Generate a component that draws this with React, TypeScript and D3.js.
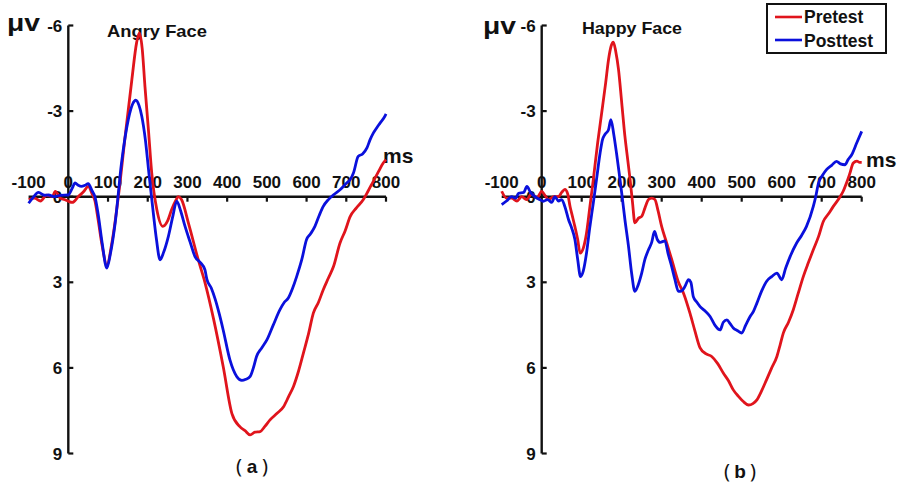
import React from "react";
import * as d3 from "d3";

type Pt = [number, number];

const xTicks = [-100, 0, 100, 200, 300, 400, 500, 600, 700, 800];
const yTicks = [-6, -3, 0, 3, 6, 9];
const seriesNames = ["Pretest", "Posttest"];
const panelTitles = ["Angry Face", "Happy Face"];
const captions = ["a", "b"];

const angryPretest: Pt[] = [
  [-100, 0.1], [-85, 0.05], [-70, 0.15], [-55, -0.05], [-40, 0.0], [-33, -0.19], [-20, 0.05], [-10, 0.1],
  [0, 0.16], [10, 0.2], [25, 0.0], [40, -0.2], [50, -0.36], [60, -0.1], [67, 0.14], [75, 0.8], [85, 1.7],
  [97, 2.39], [110, 1.6], [126, 0.0], [143, -2.1], [160, -4.1], [172, -5.4], [179, -5.74], [186, -5.2],
  [193, -3.87], [202, -2.3], [210, -0.84], [223, 0.46], [238, 1.04], [250, 0.85], [260, 0.46], [270, 0.15],
  [277, 0.0], [285, 0.1], [303, 0.95], [327, 2.2], [344, 3.0], [366, 4.3], [390, 5.95], [412, 7.6],
  [432, 8.06], [445, 8.2], [458, 8.35], [470, 8.25], [483, 8.23], [495, 8.05], [508, 7.82], [525, 7.6],
  [542, 7.36], [555, 7.0], [567, 6.65], [580, 6.1], [592, 5.48], [605, 4.8], [617, 4.08], [630, 3.7],
  [642, 3.26], [655, 2.85], [668, 2.44], [684, 1.63], [697, 1.2], [710, 0.69], [725, 0.4], [743, 0.1],
  [755, -0.2], [768, -0.54], [780, -0.85], [793, -1.18], [800, -1.3],
];

const angryPosttest: Pt[] = [
  [-100, 0.23], [-90, 0.05], [-75, -0.15], [-60, -0.05], [-50, -0.06], [-35, 0.0], [-20, -0.05], [0, -0.06],
  [10, -0.3], [17, -0.48], [25, -0.4], [33, -0.36], [42, -0.4], [50, -0.46], [60, -0.2], [67, 0.0],
  [75, 0.6], [85, 1.6], [97, 2.5], [106, 2.0], [118, 0.92], [134, -1.18], [151, -2.7], [162, -3.25],
  [170, -3.38], [178, -3.2], [185, -2.82], [194, -2.0], [202, -0.95], [214, 0.57], [222, 1.5], [231, 2.21],
  [240, 1.95], [252, 1.39], [263, 0.7], [273, 0.16], [283, 0.5], [294, 1.04], [307, 1.6], [319, 2.1],
  [332, 2.3], [344, 2.56], [349, 2.9], [360, 3.2], [370, 3.6], [380, 4.1], [390, 4.67], [407, 5.72],
  [424, 6.3], [437, 6.44], [447, 6.4], [458, 6.3], [466, 6.0], [474, 5.6], [487, 5.3], [500, 5.02],
  [516, 4.5], [533, 3.96], [544, 3.7], [554, 3.55], [565, 3.2], [575, 2.8], [588, 2.2], [600, 1.5],
  [610, 1.3], [621, 1.04], [632, 0.65], [642, 0.34], [655, 0.1], [668, -0.07], [685, -0.25], [701, -0.48],
  [710, -0.6], [718, -0.83], [730, -1.41], [741, -1.5], [752, -1.71], [760, -2.0], [768, -2.23],
  [776, -2.4], [785, -2.58], [798, -2.84], [800, -2.9],
];

const happyPretest: Pt[] = [
  [-100, -0.19], [-88, 0.05], [-75, 0.05], [-62, 0.15], [-50, 0.0], [-38, 0.1], [-25, -0.1], [-12, 0.05],
  [0, -0.19], [8, -0.05], [17, 0.1], [30, 0.0], [42, 0.0], [50, -0.15], [58, -0.26], [65, -0.1],
  [71, 0.35], [77, 0.7], [83, 1.05], [90, 1.5], [96, 1.98], [104, 1.8], [112, 1.28], [120, 0.4],
  [129, -0.6], [140, -1.9], [150, -2.94], [160, -4.0], [167, -4.8], [174, -5.3], [179, -5.42], [185, -5.1],
  [192, -4.46], [200, -3.3], [208, -2.12], [215, -1.3], [221, -0.6], [227, 0.2], [233, 0.92], [242, 0.75],
  [250, 0.69], [258, 0.4], [267, 0.1], [275, 0.05], [283, 0.1], [291, 0.5], [300, 1.05], [312, 1.6],
  [325, 2.2], [342, 3.0], [355, 3.4], [371, 4.1], [383, 4.7], [396, 5.3], [410, 5.5], [425, 5.6],
  [440, 5.85], [454, 6.18], [467, 6.45], [479, 6.77], [492, 7.0], [504, 7.18], [517, 7.3], [528, 7.25],
  [538, 7.12], [550, 6.8], [562, 6.42], [575, 6.0], [588, 5.6], [596, 5.2], [604, 4.78], [617, 4.4],
  [629, 3.96], [641, 3.4], [654, 2.8], [667, 2.3], [679, 1.86], [692, 1.4], [704, 0.87], [717, 0.6],
  [729, 0.34], [746, 0.0], [754, -0.2], [762, -0.48], [770, -0.8], [779, -1.18], [788, -1.25],
  [795, -1.2], [800, -1.2],
];

const happyPosttest: Pt[] = [
  [-100, 0.28], [-88, 0.15], [-75, 0.0], [-65, 0.05], [-58, -0.12], [-45, -0.15], [-37, -0.36], [-28, -0.15],
  [-17, 0.0], [-5, 0.1], [4, 0.16], [15, 0.1], [25, 0.2], [33, 0.0], [42, 0.15], [50, 0.1], [58, 0.35],
  [67, 0.8], [75, 1.1], [83, 1.5], [90, 2.2], [97, 2.8], [104, 2.6], [112, 1.98], [120, 1.1], [129, 0.22],
  [137, -0.6], [146, -1.53], [152, -2.0], [158, -2.18], [167, -2.35], [173, -2.7], [180, -2.2], [187, -1.53],
  [193, -0.9], [200, -0.13], [208, 0.8], [217, 1.74], [225, 2.7], [233, 3.32], [241, 3.1], [250, 2.68],
  [258, 2.2], [267, 1.86], [275, 1.6], [282, 1.22], [289, 1.5], [296, 1.6], [308, 1.55], [316, 2.0],
  [325, 2.45], [333, 2.9], [342, 3.32], [350, 3.3], [358, 3.15], [367, 2.91], [373, 3.0], [379, 3.5],
  [388, 3.7], [396, 3.85], [408, 4.0], [421, 4.2], [433, 4.5], [446, 4.67], [454, 4.4], [463, 4.32],
  [471, 4.45], [479, 4.6], [490, 4.7], [500, 4.78], [510, 4.5], [521, 4.2], [530, 4.0], [538, 3.73],
  [550, 3.3], [562, 2.97], [575, 2.8], [588, 2.68], [600, 2.91], [610, 2.5], [621, 2.1], [637, 1.63],
  [650, 1.35], [662, 1.04], [679, 0.34], [685, 0.0], [692, -0.48], [702, -0.75], [712, -0.95], [725, -1.1],
  [737, -1.24], [747, -1.15], [758, -1.12], [766, -1.3], [775, -1.47], [788, -1.9], [800, -2.29],
];

const RED = "#e0141c";
const BLUE = "#0a10dc";
const INK = "#111";
const FONT = "Arial, 'Liberation Sans', Helvetica, sans-serif";

const W = 901;
const H = 484;

const yScale = d3.scaleLinear().domain([-6, 9]).range([25.5, 453.5]);

interface PanelProps {
  xRange: [number, number];
  title: string;
  titleX: number;
  titleY: number;
  uvX: number;
  uvY: number;
  msX: number;
  msY: number;
  pre: Pt[];
  post: Pt[];
  caption: string;
  capX: number;
  capY: number;
}

function Panel(p: PanelProps) {
  const x = d3.scaleLinear().domain([-100, 800]).range(p.xRange);
  const x0 = x(0);
  const y0 = yScale(0);
  const line = d3
    .line<Pt>()
    .x((d) => x(d[0]))
    .y((d) => yScale(d[1]))
    .curve(d3.curveMonotoneX);
  return (
    <g>
      <text x={p.uvX} y={p.uvY} fontFamily={FONT} fontWeight="bold" fontSize={23} fill={INK}
        textLength={33} lengthAdjust="spacingAndGlyphs">μv</text>
      <text x={p.titleX} y={p.titleY} fontFamily={FONT} fontWeight="bold" fontSize={16.5} fill={INK}
        textLength={100} lengthAdjust="spacingAndGlyphs">{p.title}</text>
      {yTicks.map((t) => (
        <text key={"yl" + t} x={x0 - 6} y={yScale(t)} dy="0.36em" textAnchor="end"
          fontFamily={FONT} fontWeight="bold" fontSize={17} fill={INK}>{t}</text>
      ))}
      {xTicks.map((t) => (
        <text key={"xl" + t} x={x(t)} y={y0 - 9} textAnchor="middle"
          fontFamily={FONT} fontWeight="bold" fontSize={17} fill={INK}>{t}</text>
      ))}
      <text x={p.msX} y={p.msY} fontFamily={FONT} fontWeight="bold" fontSize={21} fill={INK}>ms</text>
      <line x1={x(-100)} x2={x(800)} y1={y0} y2={y0} stroke={INK} strokeWidth={2.4} />
      {xTicks.filter((t) => t > 0).map((t) => (
        <line key={"xt" + t} x1={x(t)} x2={x(t)} y1={y0} y2={y0 + 5} stroke={INK} strokeWidth={2.2} />
      ))}
      <line x1={x0} x2={x0} y1={yScale(-6)} y2={yScale(9)} stroke={INK} strokeWidth={2.4} />
      {yTicks.map((t) => (
        <line key={"yt" + t} x1={x0} x2={x0 + 5} y1={yScale(t)} y2={yScale(t)} stroke={INK} strokeWidth={2.2} />
      ))}
      <path d={line(p.pre) || ""} fill="none" stroke={RED} strokeWidth={2.8} strokeLinejoin="round" />
      <path d={line(p.post) || ""} fill="none" stroke={BLUE} strokeWidth={2.8} strokeLinejoin="round" />
      <g fill={INK}>
        <text x={p.capX - 13} y={p.capY} textAnchor="middle" fontFamily="'Noto Sans', sans-serif" fontSize={20}>(</text>
        <text x={p.capX} y={p.capY} textAnchor="middle" fontFamily={FONT} fontWeight="bold" fontSize={19}>{p.caption}</text>
        <text x={p.capX + 13} y={p.capY} textAnchor="middle" fontFamily="'Noto Sans', sans-serif" fontSize={20}>)</text>
      </g>
    </g>
  );
}

export default function App() {
  return (
    <svg width={W} height={H} viewBox={`0 0 ${W} ${H}`}
      style={{ position: "absolute", left: 0, top: 0, background: "#fff" }}>
      <rect x={0} y={0} width={W} height={H} fill="#fff" />
      <Panel xRange={[28.6, 386]} title={panelTitles[0]} titleX={107} titleY={37}
        uvX={7} uvY={31} msX={383} msY={163} pre={angryPretest} post={angryPosttest}
        caption={captions[0]} capX={252} capY={473} />
      <Panel xRange={[501.7, 861.7]} title={panelTitles[1]} titleX={582} titleY={34}
        uvX={483} uvY={34} msX={866} msY={167} pre={happyPretest} post={happyPosttest}
        caption={captions[1]} capX={740} capY={478} />
      <g>
        <rect x={767} y={4} width={119} height={49} fill="#fff" stroke={INK} strokeWidth={2} />
        {seriesNames.map((n, i) => (
          <g key={n}>
            <line x1={775} x2={802} y1={17 + i * 23} y2={17 + i * 23} stroke={i === 0 ? RED : BLUE} strokeWidth={2.6} />
            <text x={804} y={23 + i * 23.5} fontFamily={FONT} fontWeight="bold" fontSize={17.5} fill={INK}>{n}</text>
          </g>
        ))}
      </g>
    </svg>
  );
}
